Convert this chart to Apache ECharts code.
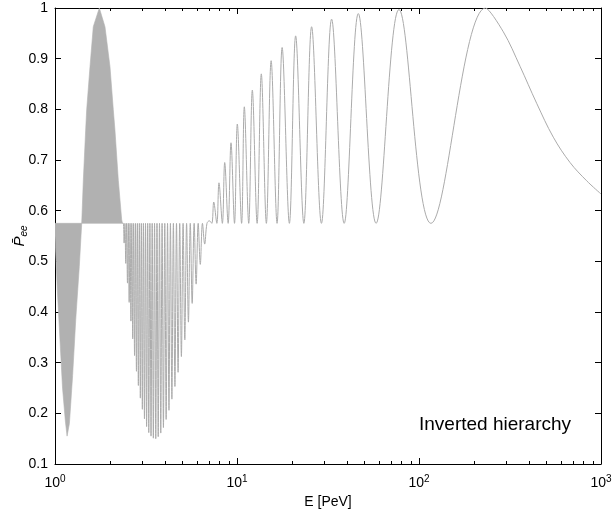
<!DOCTYPE html>
<html><head><meta charset="utf-8">
<script src="https://cdn.jsdelivr.net/npm/echarts@6/dist/echarts.min.js"></script>
<style>html,body{margin:0;padding:0;background:#fff}#c{width:612px;height:515px}</style>
</head><body><div id="c"></div>
<script>
// ---- Data ----
// Densely oscillating region (1 – 2.35 PeV): envelope of the filled band (E, P)
const bandE = [1.0, 1.0, 1.013, 1.03, 1.065, 1.10, 1.14, 1.165, 1.20, 1.25, 1.30, 1.36, 1.402,
               1.431, 1.474, 1.493, 1.557, 1.623, 1.752, 1.882, 2.005, 2.091, 2.135, 2.228, 2.325, 2.349];
const bandP = [0.575, 0.55, 0.503, 0.443, 0.345, 0.25, 0.185, 0.155, 0.18, 0.275, 0.385, 0.49, 0.575,
               0.660, 0.759, 0.799, 0.884, 0.963, 1.0, 0.963, 0.884, 0.799, 0.759, 0.660, 0.582, 0.575];

// Lower oscillations (2.35 – 7 PeV): alternating 0.575 maxima and troughs
const lowE = [2.349, 2.373, 2.398, 2.422, 2.448, 2.474, 2.501, 2.528, 2.556, 2.584, 2.613, 2.643,
              2.673, 2.704, 2.736, 2.769, 2.802, 2.836, 2.871, 2.907, 2.944, 2.981, 3.020, 3.060,
              3.101, 3.143, 3.186, 3.230, 3.275, 3.322, 3.370, 3.420, 3.471, 3.524, 3.578, 3.634,
              3.691, 3.751, 3.812, 3.876, 3.942, 4.010, 4.080, 4.153, 4.228, 4.307, 4.388, 4.472,
              4.560, 4.651, 4.746, 4.845, 4.948, 5.056, 5.168, 5.285, 5.408, 5.537, 5.672, 5.814,
              5.963, 6.120, 6.285, 6.460, 6.645, 6.840];
const lowP = [0.575, 0.575, 0.536, 0.575, 0.496, 0.575, 0.457, 0.575, 0.419, 0.575, 0.382, 0.575,
              0.347, 0.575, 0.314, 0.575, 0.283, 0.575, 0.255, 0.575, 0.230, 0.575, 0.208, 0.575,
              0.189, 0.575, 0.174, 0.575, 0.162, 0.575, 0.155, 0.575, 0.151, 0.575, 0.150, 0.575,
              0.154, 0.575, 0.161, 0.575, 0.172, 0.575, 0.188, 0.575, 0.206, 0.575, 0.228, 0.575,
              0.253, 0.575, 0.281, 0.575, 0.312, 0.575, 0.345, 0.575, 0.380, 0.575, 0.417, 0.575,
              0.455, 0.575, 0.494, 0.575, 0.534, 0.575];

// Upper oscillations (7 – 232 PeV): peaks and 0.575 minima
const highE = [7.047, 7.27, 7.45, 7.75, 7.96, 8.31, 8.56, 8.94, 9.27, 9.69, 10.04, 10.6, 10.97,
               11.6, 12.14, 12.9, 13.6, 14.5, 15.4, 16.6, 17.7, 19.4, 21.0, 23.3, 25.7, 29.1,
               33.1, 38.8, 46.4, 58.1, 77.6, 116.3, 232];
const highP = [0.580, 0.575, 0.617, 0.575, 0.655, 0.575, 0.695, 0.575, 0.734, 0.575, 0.771, 0.575, 0.805,
               0.575, 0.838, 0.575, 0.870, 0.575, 0.896, 0.575, 0.922, 0.575, 0.945, 0.575, 0.963, 0.575,
               0.978, 0.575, 0.989, 0.575, 0.997, 0.575, 1.0];

// Decaying tail (232 – 1000 PeV)
const tailE = [290.6, 359, 443, 547, 676, 834, 1000];
const tailP = [0.953, 0.885, 0.812, 0.745, 0.695, 0.659, 0.633];

// Axis ticks
const xMinorTicks = [2,3,4,5,6,7,8,9,20,30,40,50,60,70,80,90,200,300,400,500,600,700,800,900];
const yMin = 0.1, yMax = 1, yStep = 0.1;
const xMin = 1, xMax = 1000;

const lineData = []
  .concat(lowE.map((e, i) => [e, lowP[i]]))
  .concat(highE.map((e, i) => [e, highP[i]]))
  .concat(tailE.map((e, i) => [e, tailP[i]]));

const FONT = '"Liberation Sans", Arial, Helvetica, sans-serif';
const GRAY = '#ababab';

const chart = echarts.init(document.getElementById('c'), null, {renderer: 'canvas'});

const xCommon = {
  type: 'log', logBase: 10, min: xMin, max: xMax,
  axisLine: {show: true, lineStyle: {color: '#000', width: 1}},
  axisTick: {show: true, inside: true, length: 6, lineStyle: {color: '#000'}},
  splitLine: {show: false}
};
const yCommon = {
  type: 'value', min: yMin, max: yMax, interval: yStep,
  axisLine: {show: true, lineStyle: {color: '#000', width: 1}},
  axisTick: {show: true, inside: true, length: 6, lineStyle: {color: '#000'}},
  splitLine: {show: false}
};

chart.setOption({
  animation: false,
  backgroundColor: '#fff',
  grid: {left: 55, right: 11, top: 8, bottom: 51, containLabel: false, outerBoundsMode: 'none'},
  xAxis: [
    Object.assign({}, xCommon, {
      position: 'bottom',
      name: 'E [PeV]', nameLocation: 'middle', nameGap: 31, nameMoveOverlap: false,
      nameTextStyle: {fontFamily: FONT, fontSize: 14, color: '#000'},
      axisLabel: {
        margin: 10, color: '#000', fontFamily: FONT, fontSize: 14,
        formatter: v => '10{s|' + Math.round(Math.log10(v)) + '}',
        rich: {s: {fontFamily: FONT, fontSize: 10, color: '#000', padding: [0, 0, 9, 0]}}
      }
    }),
    Object.assign({}, xCommon, {position: 'top', axisLabel: {show: false}})
  ],
  yAxis: [
    Object.assign({}, yCommon, {
      position: 'left',
      name: '{p|P\u0304}{s|ee}', nameLocation: 'middle', nameGap: 26, nameRotate: 90,
      nameMoveOverlap: false,
      nameTextStyle: {
        rich: {
          p: {fontFamily: FONT, fontSize: 15, fontStyle: 'italic', color: '#000'},
          s: {fontFamily: FONT, fontSize: 10, fontStyle: 'italic', color: '#000', padding: [8, 0, 0, 0]}
        }
      },
      axisLabel: {
        margin: 7, color: '#000', fontFamily: FONT, fontSize: 14,
        formatter: v => String(Math.round(v * 10) / 10)
      }
    }),
    Object.assign({}, yCommon, {position: 'right', axisLabel: {show: false}})
  ],
  graphic: [{
    type: 'text', left: 419, top: 415,
    style: {text: 'Inverted hierarchy', fontFamily: FONT, fontSize: 19, fill: '#000'}
  }],
  series: [
    {
      type: 'custom', name: 'band', silent: true, clip: true, z: 2,
      data: [[bandE[0], bandP[0]]],
      renderItem: function (params, api) {
        const pts = bandE.map((e, i) => api.coord([e, bandP[i]]));
        return {type: 'polygon', shape: {points: pts},
                style: {fill: '#b1b1b1', stroke: '#b1b1b1', lineWidth: 0.6}};
      }
    },
    {
      type: 'line', name: 'Pee', data: lineData, showSymbol: false, symbol: 'none',
      smooth: 0.36, clip: true, z: 3,
      lineStyle: {color: GRAY, width: 1}
    },
    {
      type: 'custom', name: 'minorTicks', silent: true, clip: false, z: 5,
      data: xMinorTicks.map(v => [v, yMin]),
      renderItem: function (params, api) {
        const b = api.coord([api.value(0), yMin]);
        const t = api.coord([api.value(0), yMax]);
        const x = Math.round(b[0]) + 0.5;
        return {type: 'group', children: [
          {type: 'line', shape: {x1: x, y1: b[1], x2: x, y2: b[1] - 3}, style: {stroke: '#000', lineWidth: 1}},
          {type: 'line', shape: {x1: x, y1: t[1], x2: x, y2: t[1] + 3}, style: {stroke: '#000', lineWidth: 1}}
        ]};
      }
    }
  ]
});
</script>
</body></html>
